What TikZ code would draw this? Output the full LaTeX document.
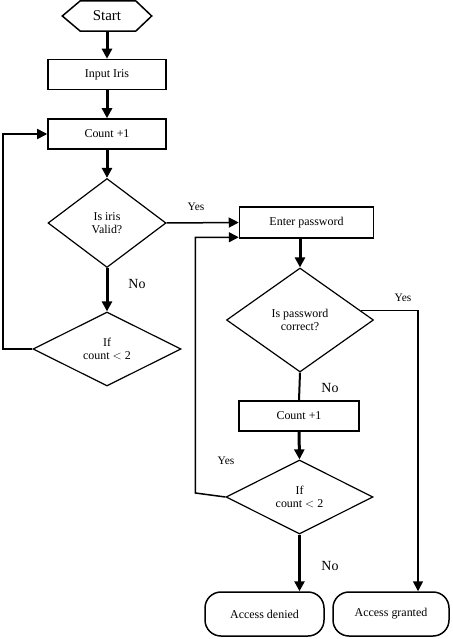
\documentclass[tikz,border=0pt]{standalone}
\usepackage{fontspec}
\setmainfont{Liberation Serif}
\usetikzlibrary{shapes.geometric,arrows.meta,calc}
\begin{document}
\begin{tikzpicture}[x=1bp,y=-1bp,
  box/.style={draw,line width=1.5bp,minimum width=118bp,minimum height=30bp,inner sep=0pt,font=\fontsize{12}{13}\selectfont},
  dia/.style={draw,diamond,line width=1.2bp,inner sep=0pt,align=center,font=\fontsize{12}{13.5}\selectfont},
  term/.style={draw,rectangle,rounded corners=16bp,line width=1.5bp,minimum height=44bp,inner sep=0pt,font=\fontsize{12}{13}\selectfont},
  thickarrow/.style={line width=3bp,-{Triangle[length=10bp,width=10bp]}},
  thinarrow/.style={line width=1.5bp,-{Triangle[length=10bp,width=10bp]}},
  thinline/.style={line width=1.8bp},
  lab/.style={inner sep=0pt,font=\fontsize{11.5}{12}\selectfont},
  biglab/.style={inner sep=0pt,font=\fontsize{14}{15}\selectfont},
]
\useasboundingbox (0,0) rectangle (453,639);
% start hexagon
\node[minimum width=89bp,minimum height=30bp,inner sep=0pt,font=\fontsize{15}{16}\selectfont] (start) at (107,16) {Start};
\draw[line width=1.5bp] (start.west) -- ($(start.north west)+(18,0)$) -- ($(start.north east)+(-16,0)$) -- (start.east) -- ($(start.south east)+(-16,0)$) -- ($(start.south west)+(18,0)$) -- cycle;
% left column
\node[box] (input) at (107,74.5) {Input Iris};
\node[box] (count1) at (107,134) {Count +1};
\node[dia,minimum width=118bp,minimum height=89bp] (iris) at (107,223) {Is iris\\Valid?};
\node[dia,minimum width=148bp,minimum height=74bp] (if1) at (107,349) {If\\count $<$ 2};
% right column
\node[box,minimum width=134bp,minimum height=31bp] (enter) at (306.5,222.5) {Enter password};
\node[dia,minimum width=147bp,minimum height=104bp] (pw) at (300,320) {Is password\\correct?};
\node[box,minimum width=120bp] (count2) at (299,416) {Count +1};
\node[dia,minimum width=147bp,minimum height=74bp] (if2) at (299.5,497) {If\\count $<$ 2};
\node[term,minimum width=119bp] (denied) at (264.5,614) {Access denied};
\node[term,minimum width=116bp] (granted) at (391,614) {Access granted};
% connectors
\draw[thickarrow] (start.south) -- (input.north);
\draw[thickarrow] (input.south) -- (count1.north);
\draw[thickarrow] (count1.south) -- (iris.north);
\draw[thickarrow] (iris.south) -- (if1.north);
\draw[thinarrow] (if1.west) -| ($(count1.west)+(-44,0)$) -- (count1.west);
\draw[thinarrow] (iris.east) -- (enter.west);
\draw[thickarrow] (pw.north |- enter.south) -- (pw.north);
\draw[line width=2bp] (pw.south) -- (count2.north);
\draw[thickarrow] (count2.south) -- (if2.north);
\draw[thickarrow] (if2.south) -- (if2.south |- denied.north);
\draw[thinarrow] (if2.west) -- ($(if2.west)+(-30,-4)$) |- ([yshift=1.5bp]enter.south west);
\coordinate (pwy) at ($(pw.north)!0.82!(pw.east)$);
\draw[thinarrow] (pwy) -| ($(granted.north)+(27,0)$);
% labels
\node[lab] (y1) at (196,207) {Yes};
\node[biglab] (n1) at (137,284) {No};
\node[lab] (y2) at (403,298) {Yes};
\node[biglab] (n2) at (330,388) {No};
\node[lab] (y3) at (226,461) {Yes};
\node[biglab] (n3) at (330,566) {No};
\end{tikzpicture}
\end{document}
